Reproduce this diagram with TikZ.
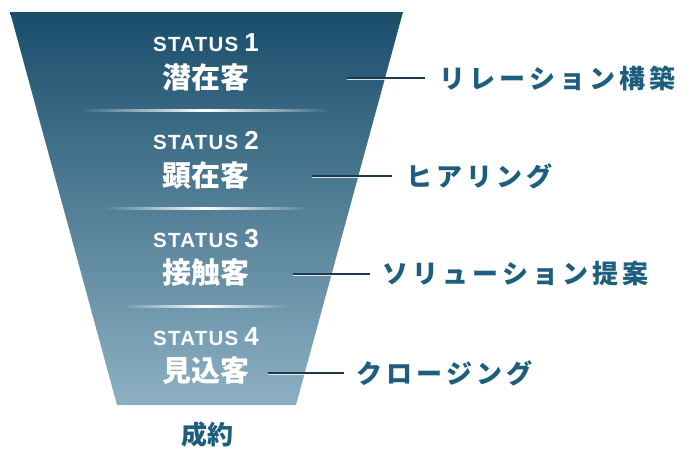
\documentclass[tikz,border=0pt]{standalone}
\usepackage{fontspec}
\setmainfont{Noto Sans CJK JP}
\newfontfamily\jplab{Noto Sans CJK JP}[LetterSpace=16]
\newfontfamily\latsans{Liberation Sans}[LetterSpace=6]
\newfontfamily\latnum{Liberation Sans}
\definecolor{ftop}{HTML}{1A4E6B}
\definecolor{fbot}{HTML}{8CB0C2}
\definecolor{labc}{HTML}{1D5E7E}
\definecolor{linec}{HTML}{1B3A4E}
\tikzset{
  stat/.style={text=white, inner sep=0pt, font=\latsans\bfseries\fontsize{20.5}{21}\selectfont},
  stage/.style={text=white, inner sep=0pt, font=\bfseries\fontsize{29}{29}\selectfont},
  lab/.style={text=labc, anchor=west, inner sep=0pt, font=\jplab\bfseries\fontsize{26}{26}\selectfont},
  conn/.style={linec, line width=2pt},
  connhi/.style={white, opacity=0.8, line width=1.3pt},
}
\newcommand{\statnum}[1]{STATUS\hspace{6pt}{\latnum\fontsize{26}{26}\selectfont #1}}
\begin{document}
\begin{tikzpicture}[x=1pt,y=-1pt]
\useasboundingbox (0,0) rectangle (690,469);
% funnel
\shade[top color=ftop, bottom color=fbot] (10,12) -- (403,12) -- (296,405) -- (117,405) -- cycle;
% separators
\shade[left color=fbot!25!ftop, right color=fbot!25!ftop, middle color=white] (80,109.2) rectangle (330,111);
\shade[left color=fbot!50!ftop, right color=fbot!50!ftop, middle color=white] (104,207.2) rectangle (308,209);
\shade[left color=fbot!75!ftop, right color=fbot!75!ftop, middle color=white] (123,305.2) rectangle (288,307);
% stage texts
\node[stat]  (s1) at (206,43)  {\statnum{1}};
\node[stage] (t1) at (206,77)  {潜在客};
\node[stat]  (s2) at (206,141) {\statnum{2}};
\node[stage] (t2) at (206,175) {顕在客};
\node[stat]  (s3) at (206,239) {\statnum{3}};
\node[stage] (t3) at (206,273) {接触客};
\node[stat]  (s4) at (206,337) {\statnum{4}};
\node[stage] (t4) at (206,371) {見込客};
\node[text=labc, inner sep=0pt, font=\bfseries\fontsize{26}{26}\selectfont] (goal) at (207,435) {成約};
% labels
\node[lab] (l1) at (439,78)  {リレーション構築};
\node[lab] (l2) at (406,176) {ヒアリング};
\node[lab] (l3) at (382,274) {ソリューション提案};
\node[lab] (l4) at (356,373) {クロージング};
% connectors
\coordinate (c1) at (347,78);
\coordinate (c2) at (312,176);
\coordinate (c3) at (293,274);
\coordinate (c4) at (268,373);
\draw[connhi] ([yshift=-1.8pt]c1) -- ([xshift=-14pt,yshift=-1.8pt]l1.west);
\draw[conn] (c1) -- ([xshift=-14pt]l1.west);
\draw[connhi] ([yshift=-1.8pt]c2) -- ([xshift=-14pt,yshift=-1.8pt]l2.west);
\draw[conn] (c2) -- ([xshift=-14pt]l2.west);
\draw[connhi] ([yshift=-1.8pt]c3) -- ([xshift=-12pt,yshift=-1.8pt]l3.west);
\draw[conn] (c3) -- ([xshift=-12pt]l3.west);
\draw[connhi] ([yshift=-1.8pt]c4) -- ([xshift=-12pt,yshift=-1.8pt]l4.west);
\draw[conn] (c4) -- ([xshift=-12pt]l4.west);
\end{tikzpicture}
\end{document}
